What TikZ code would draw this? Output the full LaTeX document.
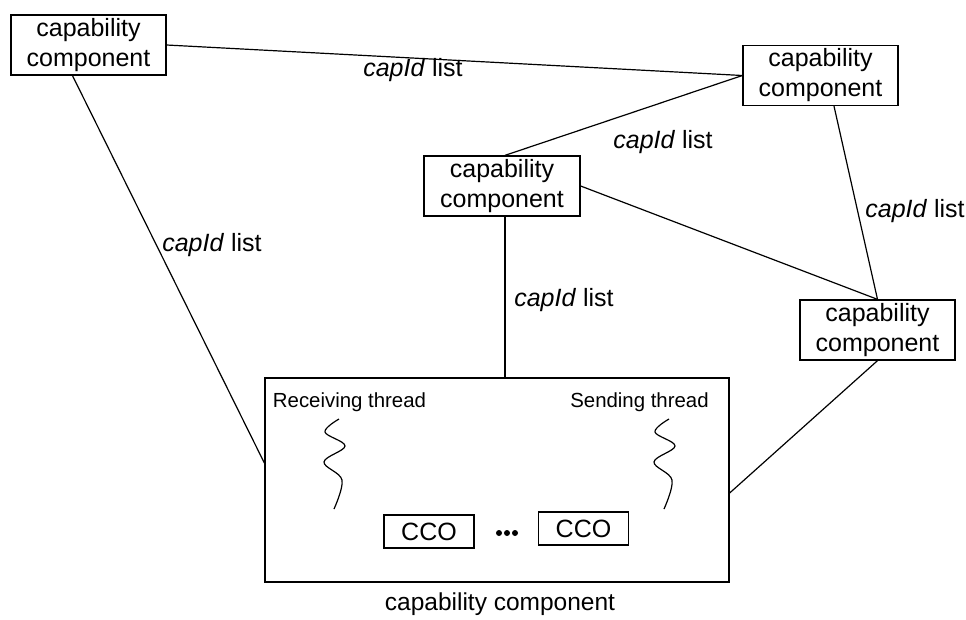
\documentclass[tikz,border=0pt]{standalone}
\usepackage{fontspec}
\setmainfont{Liberation Sans}
\usetikzlibrary{calc}
\tikzset{
  capbox/.style={draw, line width=1.3pt, minimum width=155pt, minimum height=60pt,
    inner sep=0pt, align=center, font=\fontsize{25}{30}\selectfont},
  ccobox/.style={draw, line width=1.1pt, minimum width=90pt, minimum height=33pt,
    inner sep=0pt, font=\fontsize{25}{30}\selectfont},
  link/.style={line width=1.2pt},
  lbl/.style={inner sep=0pt, font=\fontsize{25}{30}\selectfont},
  thr/.style={inner sep=0pt, font=\fontsize{20.4}{24}\selectfont},
  wave/.style={line width=1.2pt}
}
\newcommand{\capid}{\textit{capId} list}
\begin{document}
\begin{tikzpicture}[x=1pt, y=-1pt]
  \useasboundingbox (0,0) rectangle (966,619);

  % capability components
  \node[capbox] (A) at (88.5,45) {capability\\component};
  \node[capbox] (B) at (820.5,75.5) {capability\\component};
  \node[capbox, minimum width=156pt] (C) at (502,186) {capability\\component};
  \node[capbox] (D) at (877.5,330) {capability\\component};

  % large component with threads and CCOs
  \node[draw, line width=1.3pt, minimum width=464pt, minimum height=204pt, inner sep=0pt] (big) at (497,480) {};
  \node[lbl, font=\fontsize{24.5}{30}\selectfont] (bigcap) at (500,604) {capability component};

  \node[thr] (recv) at (349.5,402) {Receiving thread};
  \node[thr] (send) at (639.5,402) {Sending thread};

  \draw[wave] plot[smooth, tension=0.6] coordinates {(339,419) (325,432) (345,446) (324,462) (342,480) (334,509)};
  \draw[wave] plot[smooth, tension=0.6] coordinates {(669,419) (655,432) (675,446) (654,462) (672,480) (664,509)};

  \node[ccobox] (cco1) at (429,531.5) {CCO};
  \node[ccobox] (cco2) at (583.5,528.5) {CCO};
  \node[inner sep=0pt] (dots) at (507,533) {};
  \foreach \dx in {-8,0,8} \fill ($(dots)+(\dx,0)$) circle (3pt);

  % connection end points
  \coordinate (Cs) at ($(C.south)+(3,0)$);
  \coordinate (Cn) at ($(C.north)+(3,0)$);
  \coordinate (bigtop) at (Cs |- big.north);

  % connections
  \draw[link] (A.east) -- (B.west);
  \draw[link] ($(A.south)+(-16,0)$) -- ($(big.west)+(0,-17)$);
  \draw[link] (Cn) -- (B.west);
  \draw[link] ($(B.south)+(13.5,0)$) -- (D.north);
  \draw[link] (C.east) -- (D.north);
  \draw[link] (Cs) -- (bigtop);
  \draw[link] (D.south) -- ($(big.east)+(0,13)$);

  % link labels
  \node[lbl] (l1) at (413,70) {\capid};
  \node[lbl] (l2) at (663,142) {\capid};
  \node[lbl] (l3) at (212,245) {\capid};
  \node[lbl] (l4) at (915,211) {\capid};
  \node[lbl] (l5) at (564,300) {\capid};
\end{tikzpicture}
\end{document}
